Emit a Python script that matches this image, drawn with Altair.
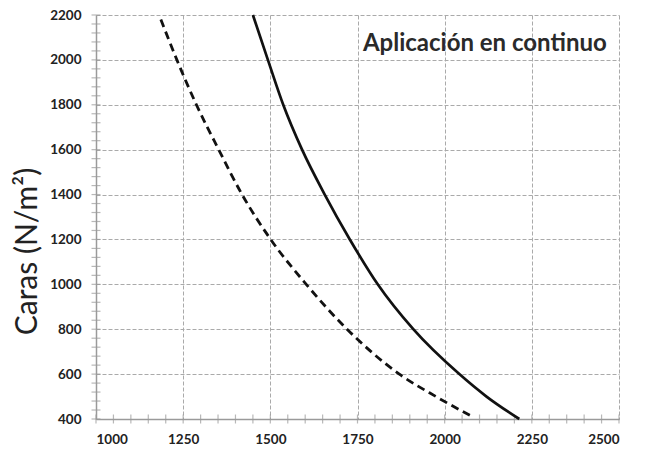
import altair as alt
import pandas as pd

# Solid curve: y -> x
solid_y = [2200, 2000, 1800, 1600, 1400, 1200, 1000, 800, 600, 500, 400]
solid_x = [1450, 1493, 1537, 1591, 1656, 1728, 1808, 1910, 2042, 2120, 2214]

# Dashed curve
dashed_y = [2180, 2000, 1800, 1600, 1400, 1200, 1000, 800, 600, 500, 410]
dashed_x = [1186, 1232, 1288, 1352, 1419, 1501, 1603, 1720, 1870, 1975, 2080]

x_major = [1000, 1250, 1500, 1750, 2000, 2250, 2500]
y_major = [400, 600, 800, 1000, 1200, 1400, 1600, 1800, 2000, 2200]
x_minor = list(range(1000, 2501, 50))
y_minor = list(range(400, 2201, 40))

annot_text = ["Aplicación en continuo"]
annot_x = [2465]
annot_y = [2040]

y_title = "Caras (N/m²)"

df = pd.concat([
    pd.DataFrame({"x": solid_x, "y": solid_y, "serie": "solid", "o": range(len(solid_x))}),
    pd.DataFrame({"x": dashed_x, "y": dashed_y, "serie": "dashed", "o": range(len(dashed_x))}),
])

xs = alt.Scale(domain=[1000, 2500], nice=False, zero=False)
ys = alt.Scale(domain=[400, 2200], nice=False, zero=False)

label_font = "Lato"
grid_color = "#aaaaaa"
axis_color = "#9a9a9a"

x_axis = alt.Axis(values=x_major, format="d", grid=True, gridDash=[4, 2], gridColor=grid_color, gridWidth=1,
                  domainColor=axis_color, domainWidth=1.5, ticks=False, labelPadding=13,
                  labelFont=label_font, labelFontWeight="bold", labelFontSize=13.5, labelColor="#222222",
                  title=None)
y_axis = alt.Axis(values=y_major, format="d", grid=True, gridDash=[4, 2], gridColor=grid_color, gridWidth=1,
                  domainColor=axis_color, domainWidth=1.5, ticks=False, labelPadding=15,
                  labelFont=label_font, labelFontWeight="bold", labelFontSize=13.5, labelColor="#222222",
                  title=y_title, titleFont="Lato", titleFontWeight="normal", titleFontSize=30,
                  titleColor="#222222", titleX=-69, titleY=236, titleAlign="center",
                  titleBaseline="middle", titleAngle=270)

solid = alt.Chart(df[df.serie == "solid"]).mark_line(color="#111111", strokeWidth=2.7, interpolate="monotone").encode(
    x=alt.X("x:Q", scale=xs, axis=x_axis),
    y=alt.Y("y:Q", scale=ys, axis=y_axis),
    order="o:Q",
)
dashed = alt.Chart(df[df.serie == "dashed"]).mark_line(color="#111111", strokeWidth=2.8, strokeDash=[8, 5],
                                                        interpolate="monotone").encode(
    x=alt.X("x:Q", scale=xs),
    y=alt.Y("y:Q", scale=ys),
    order="o:Q",
)

xt = alt.Chart(pd.DataFrame({"x": x_minor, "y": [400] * len(x_minor)})).mark_tick(
    orient="vertical", size=9, thickness=1.2, color=axis_color).encode(
    x=alt.X("x:Q", scale=xs), y=alt.Y("y:Q", scale=ys))
yt = alt.Chart(pd.DataFrame({"x": [1000] * len(y_minor), "y": y_minor})).mark_tick(
    orient="horizontal", size=9, thickness=1.2, color=axis_color).encode(
    x=alt.X("x:Q", scale=xs), y=alt.Y("y:Q", scale=ys))

annot = alt.Chart(pd.DataFrame({"t": annot_text, "x": annot_x, "y": annot_y})).mark_text(
    align="right", baseline="alphabetic", font="Lato", fontWeight="bold", fontSize=24, color="#2a2a2a").encode(
    x=alt.X("x:Q", scale=xs), y=alt.Y("y:Q", scale=ys), text="t:N")

chart = alt.layer(xt, yt, dashed, solid, annot).properties(
    width=523, height=404,
    autosize=alt.AutoSizeParams(type="none"),
    padding={"left": 88, "top": 7, "right": 22, "bottom": 30},
    background="white",
).configure_view(stroke=None)

chart.save("out.html", embed_options={"renderer": "svg", "actions": False})
